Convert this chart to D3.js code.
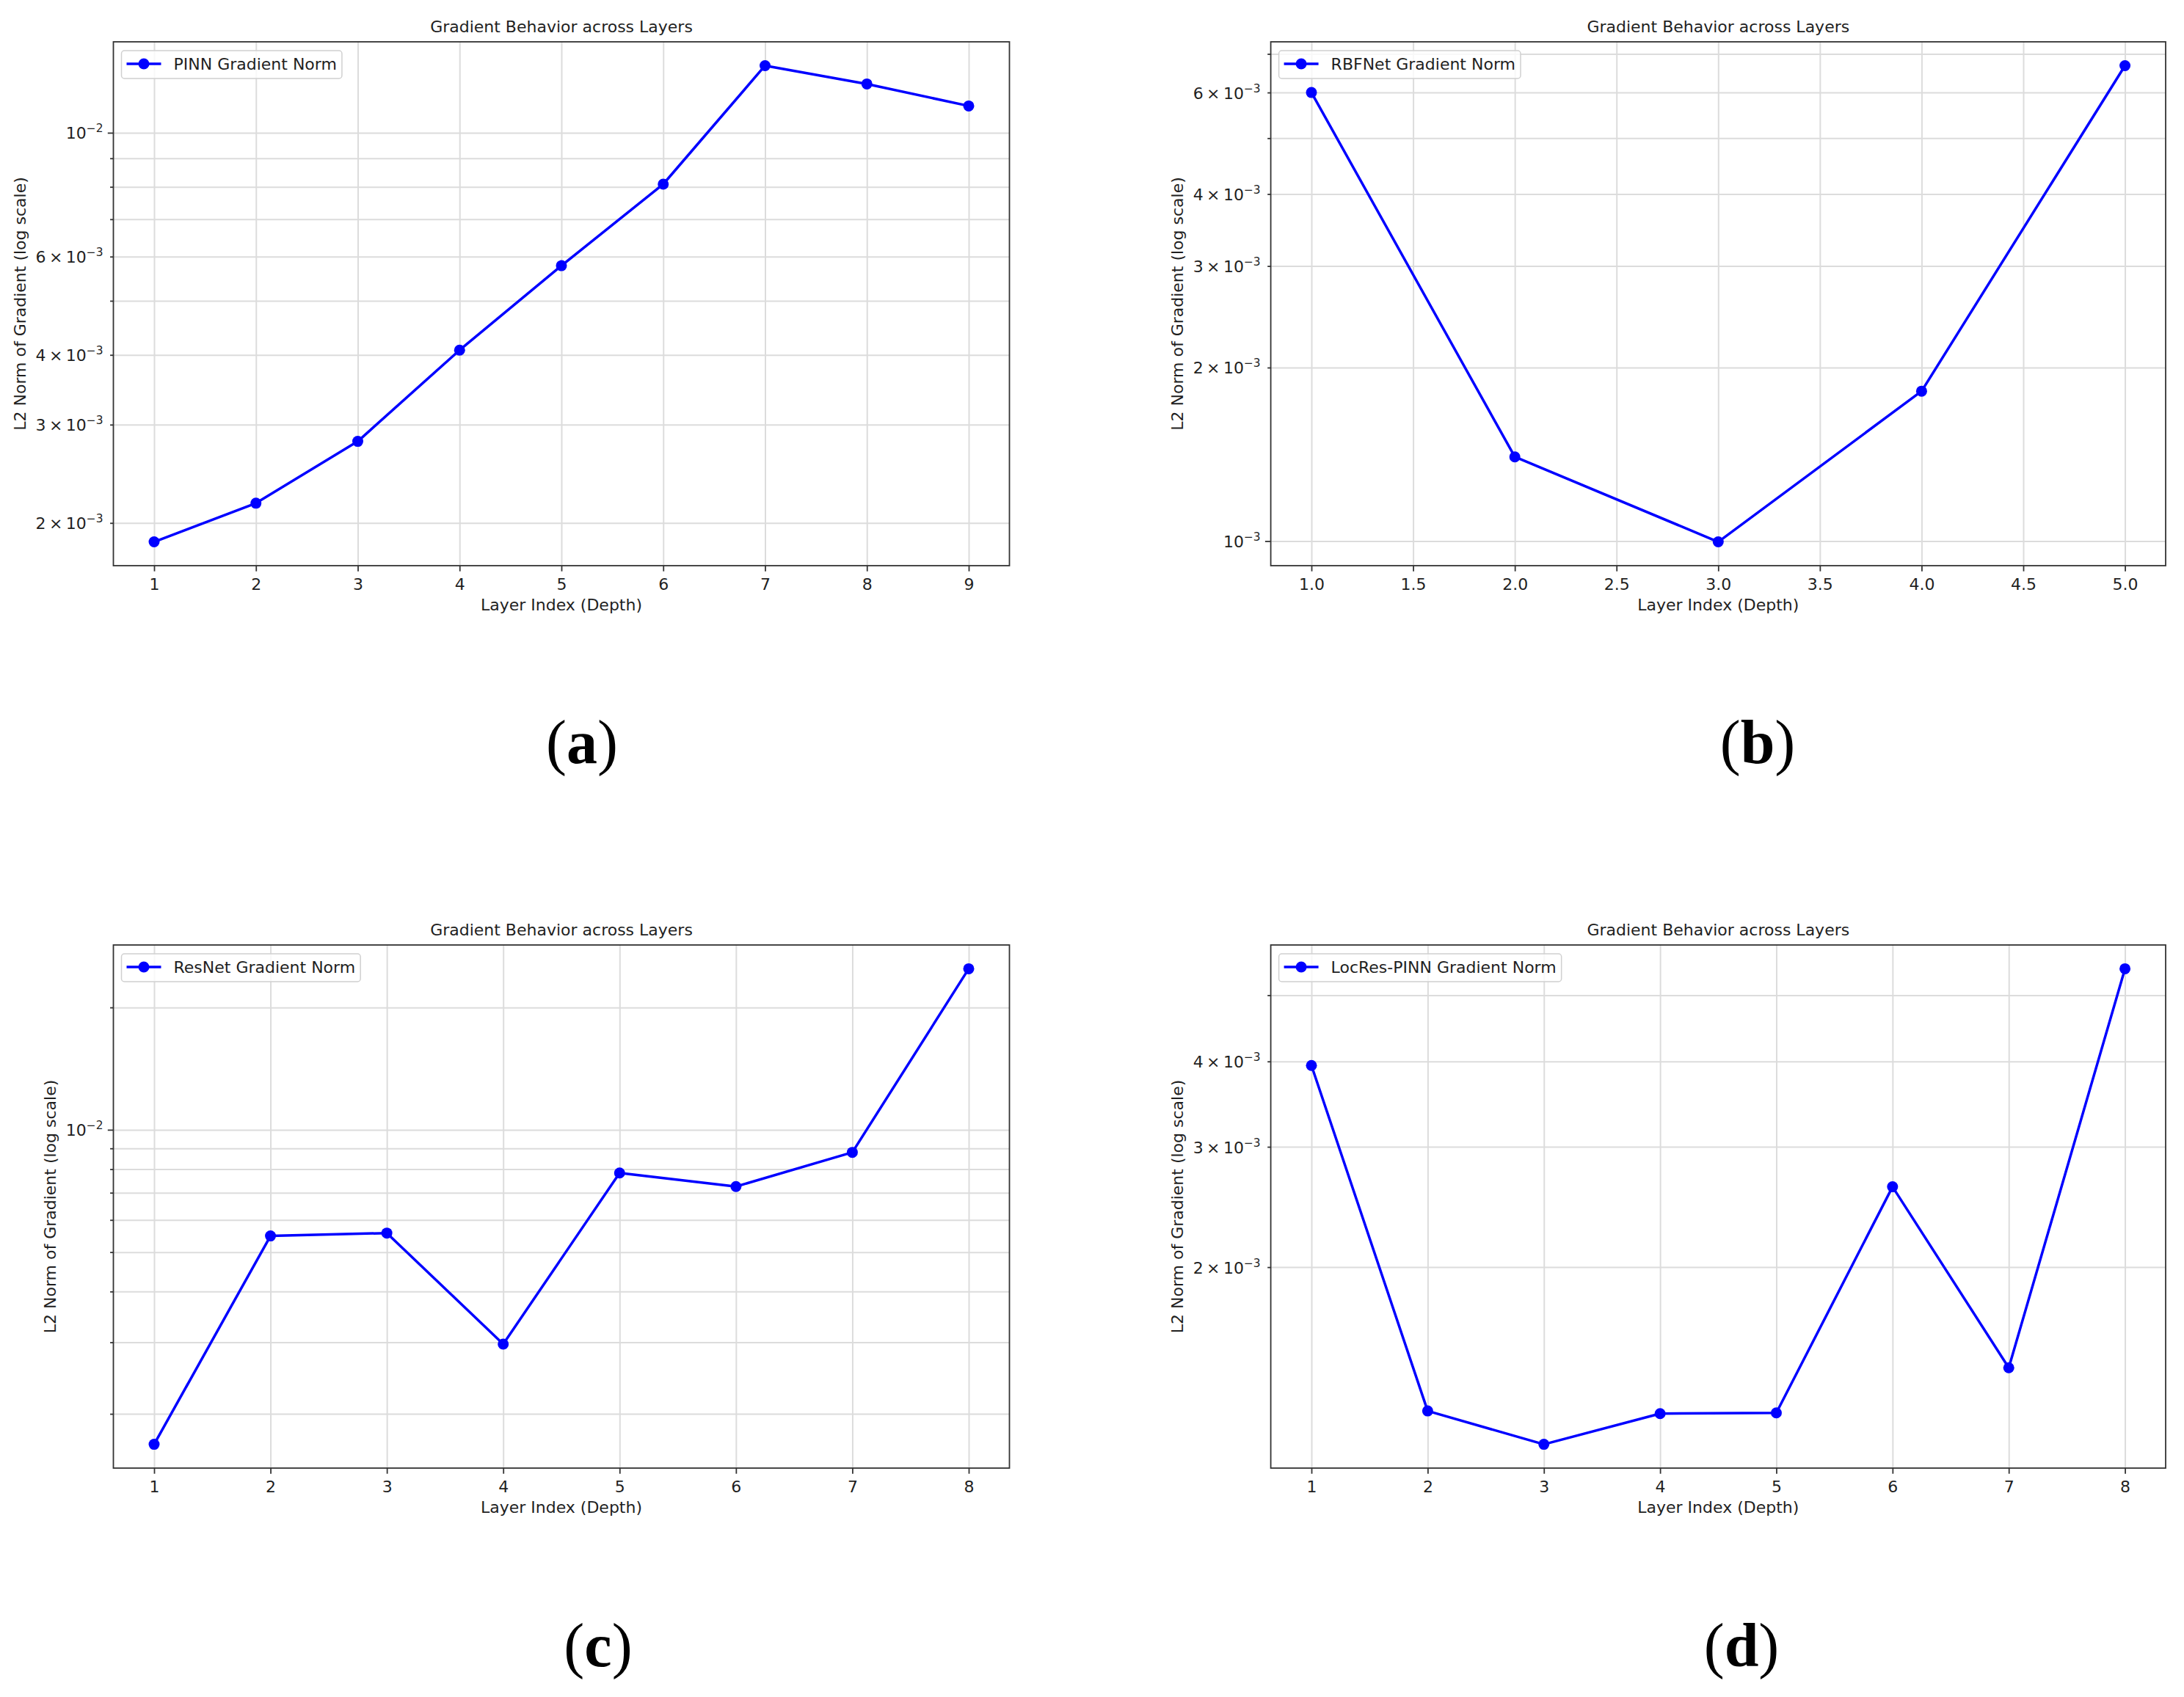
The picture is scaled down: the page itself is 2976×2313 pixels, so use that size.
<!DOCTYPE html>
<html><head><meta charset="utf-8">
<script src="https://cdn.jsdelivr.net/npm/d3@7"></script>
<style>
body{margin:0;background:#fff}
text{font-family:"DejaVu Sans",sans-serif;fill:#1f1f1f}
</style>
</head><body>
<svg id="chart" width="2976" height="2313" xmlns="http://www.w3.org/2000/svg"></svg>
<script>
// ---------------- data ----------------
const layersA = [1, 2, 3, 4, 5, 6, 7, 8, 9];
const normsA  = [0.00185, 0.00217, 0.00280, 0.00408, 0.00578, 0.00809, 0.01319, 0.01223, 0.01117];

const layersB = [1, 2, 3, 4, 5];
const normsB  = [0.00600, 0.00140, 0.000997, 0.00182, 0.00668];

const layersC = [1, 2, 3, 4, 5, 6, 7, 8];
const normsC  = [0.001683, 0.00548, 0.00557, 0.00297, 0.00783, 0.00725, 0.00880, 0.0249];

const layersD = [1, 2, 3, 4, 5, 6, 7, 8];
const normsD  = [0.003946, 0.001232, 0.001101, 0.001221, 0.001224, 0.002622, 0.001425, 0.005466];

const seriesNames = ["PINN Gradient Norm", "RBFNet Gradient Norm", "ResNet Gradient Norm", "LocRes-PINN Gradient Norm"];
const captionLetters = ["a", "b", "c", "d"];

const xTicksA = [1, 2, 3, 4, 5, 6, 7, 8, 9];
const xTicksB = [1.0, 1.5, 2.0, 2.5, 3.0, 3.5, 4.0, 4.5, 5.0];
const xTicksC = [1, 2, 3, 4, 5, 6, 7, 8];
const xTicksD = [1, 2, 3, 4, 5, 6, 7, 8];

const yLabelTicksA = [0.002, 0.003, 0.004, 0.006, 0.01];
const yLabelTicksB = [0.001, 0.002, 0.003, 0.004, 0.006];
const yLabelTicksC = [0.01];
const yLabelTicksD = [0.002, 0.003, 0.004];

const chartTitle = "Gradient Behavior across Layers";
const xAxisTitle = "Layer Index (Depth)";
const yAxisTitle = "L2 Norm of Gradient (log scale)";

// ---------------- layout ----------------
const panels = [
  {xs: layersA, ys: normsA, name: seriesNames[0], xt: xTicksA, yl: yLabelTicksA, xfmt: d3.format("d"),
   L: 154.5, R: 1375.5, T: 57, B: 771, cap: captionLetters[0], capX: 793, capY: 1040},
  {xs: layersB, ys: normsB, name: seriesNames[1], xt: xTicksB, yl: yLabelTicksB, xfmt: d3.format(".1f"),
   L: 1731.6, R: 2951, T: 57, B: 771, cap: captionLetters[1], capX: 2395, capY: 1040},
  {xs: layersC, ys: normsC, name: seriesNames[2], xt: xTicksC, yl: yLabelTicksC, xfmt: d3.format("d"),
   L: 154.5, R: 1375.5, T: 1288, B: 2001, cap: captionLetters[2], capX: 815, capY: 2271},
  {xs: layersD, ys: normsD, name: seriesNames[3], xt: xTicksD, yl: yLabelTicksD, xfmt: d3.format("d"),
   L: 1731.6, R: 2951, T: 1288, B: 2001, cap: captionLetters[3], capX: 2373, capY: 2271}
];

const FS = 22;          // base font size
const BLUE = "#0000ff";
const svg = d3.select("#chart");
svg.append("rect").attr("width", 2976).attr("height", 2313).attr("fill", "#fff");

function addLogLabel(textSel, v) {
  const e = Math.floor(Math.log10(v) + 1e-9);
  const m = Math.round(v / Math.pow(10, e));
  textSel.text(null);
  if (m !== 1) {
    textSel.append("tspan").text(m + "\u2009\u00d7\u2009");
  }
  textSel.append("tspan").text("10");
  textSel.append("tspan").attr("font-size", FS * 0.7).attr("dy", -9)
    .text(String(e).replace("-", "\u2212"));
}

panels.forEach(p => {
  const g = svg.append("g");
  const xr = d3.extent(p.xs), xpad = (xr[1] - xr[0]) * 0.05;
  const x = d3.scaleLinear().domain([xr[0] - xpad, xr[1] + xpad]).range([p.L, p.R]);
  const ly = d3.extent(p.ys).map(Math.log10), lpad = (ly[1] - ly[0]) * 0.05;
  const y = d3.scaleLog().domain([Math.pow(10, ly[0] - lpad), Math.pow(10, ly[1] + lpad)]).range([p.B, p.T]);
  const [d0, d1] = y.domain();

  // all log ticks (major + minor) inside the domain
  const allTicks = [], majors = [], minors = [];
  for (let e = Math.floor(Math.log10(d0)); e <= Math.ceil(Math.log10(d1)); e++) {
    for (let k = 1; k <= 9; k++) {
      const v = +(k * Math.pow(10, e)).toPrecision(6);
      if (v >= d0 && v <= d1) { allTicks.push(v); (k === 1 ? majors : minors).push(v); }
    }
  }

  // grid
  const gridY = g.append("g").attr("transform", `translate(${p.L},0)`)
    .call(d3.axisLeft(y).tickValues(allTicks).tickSize(-(p.R - p.L)).tickFormat(""));
  const gridX = g.append("g").attr("transform", `translate(0,${p.B})`)
    .call(d3.axisBottom(x).tickValues(p.xt).tickSize(-(p.B - p.T)).tickFormat(""));
  [gridY, gridX].forEach(s => {
    s.select(".domain").remove();
    s.selectAll("line").attr("stroke", "#dcdcdc").attr("stroke-width", 2);
  });

  // line + markers
  const pts = p.xs.map((v, i) => [v, p.ys[i]]);
  g.append("path").datum(pts)
    .attr("d", d3.line().x(d => x(d[0])).y(d => y(d[1])))
    .attr("fill", "none").attr("stroke", BLUE).attr("stroke-width", 3.5).attr("stroke-linejoin", "round");
  g.selectAll("circle.pt").data(pts).join("circle").attr("class", "pt")
    .attr("cx", d => x(d[0])).attr("cy", d => y(d[1])).attr("r", 7.5).attr("fill", BLUE);

  // tick marks
  const minorAx = g.append("g").attr("transform", `translate(${p.L},0)`)
    .call(d3.axisLeft(y).tickValues(minors).tickSize(4.4).tickFormat(""));
  const majorAx = g.append("g").attr("transform", `translate(${p.L},0)`)
    .call(d3.axisLeft(y).tickValues(majors).tickSize(7.7).tickFormat(""));
  const xAx = g.append("g").attr("transform", `translate(0,${p.B})`)
    .call(d3.axisBottom(x).tickValues(p.xt).tickSize(7.7).tickPadding(8).tickFormat(p.xfmt));
  [minorAx, majorAx, xAx].forEach(s => {
    s.select(".domain").remove();
    s.selectAll("line").attr("stroke", "#333").attr("stroke-width", 1.8);
  });
  xAx.selectAll("text").attr("font-size", FS).attr("fill", "#1f1f1f")
    .attr("font-family", "DejaVu Sans").attr("dy", null).attr("y", 33);

  // y tick labels
  const yLab = g.append("g").attr("transform", `translate(${p.L},0)`)
    .call(d3.axisLeft(y).tickValues(p.yl).tickSize(0).tickPadding(14));
  yLab.select(".domain").remove();
  yLab.selectAll("line").remove();
  yLab.selectAll("text").attr("font-size", FS).attr("fill", "#1f1f1f")
    .attr("font-family", "DejaVu Sans").attr("dy", null).attr("y", 8)
    .each(function (d) { addLogLabel(d3.select(this), d); });

  // spines
  g.append("rect").attr("x", p.L).attr("y", p.T).attr("width", p.R - p.L).attr("height", p.B - p.T)
    .attr("fill", "none").attr("stroke", "#333").attr("stroke-width", 1.8);

  // title
  g.append("text").attr("x", (p.L + p.R) / 2).attr("y", p.T - 13)
    .attr("text-anchor", "middle").attr("font-size", FS).text(chartTitle);
  // x label
  g.append("text").attr("x", (p.L + p.R) / 2).attr("y", p.B + 61)
    .attr("text-anchor", "middle").attr("font-size", FS).text(xAxisTitle);
  // y label placed left of tick labels
  let minX = p.L - 20;
  yLab.selectAll("text").each(function () {
    const bb = this.getBBox();
    minX = Math.min(minX, p.L + bb.x);
  });
  const ylx = minX - 8.8 - 5;
  g.append("text").attr("transform", `translate(${ylx},${(p.T + p.B) / 2}) rotate(-90)`)
    .attr("text-anchor", "middle").attr("font-size", FS).text(yAxisTitle);

  // legend
  const lg = g.append("g").attr("transform", `translate(${p.L + 11},${p.T + 12})`);
  const box = lg.append("rect").attr("rx", 4).attr("ry", 4).attr("height", 38)
    .attr("fill", "#fff").attr("fill-opacity", 0.8).attr("stroke", "#d0d0d0").attr("stroke-width", 1.5);
  lg.append("line").attr("x1", 7).attr("x2", 54).attr("y1", 18).attr("y2", 18)
    .attr("stroke", BLUE).attr("stroke-width", 3.5);
  lg.append("circle").attr("cx", 30.5).attr("cy", 18).attr("r", 7.5).attr("fill", BLUE);
  const lt = lg.append("text").attr("x", 71).attr("y", 26).attr("font-size", FS).text(p.name);
  box.attr("width", lt.node().getComputedTextLength() + 71 + 7);

  // caption
  const cap = svg.append("text").attr("x", p.capX).attr("y", p.capY).attr("text-anchor", "middle")
    .style("font-family", "'Liberation Serif', 'Times New Roman', serif").attr("font-size", 84).style("fill", "#000");
  cap.append("tspan").text("(");
  cap.append("tspan").attr("font-weight", "bold").text(p.cap);
  cap.append("tspan").text(")");
});
</script>
</body></html>
